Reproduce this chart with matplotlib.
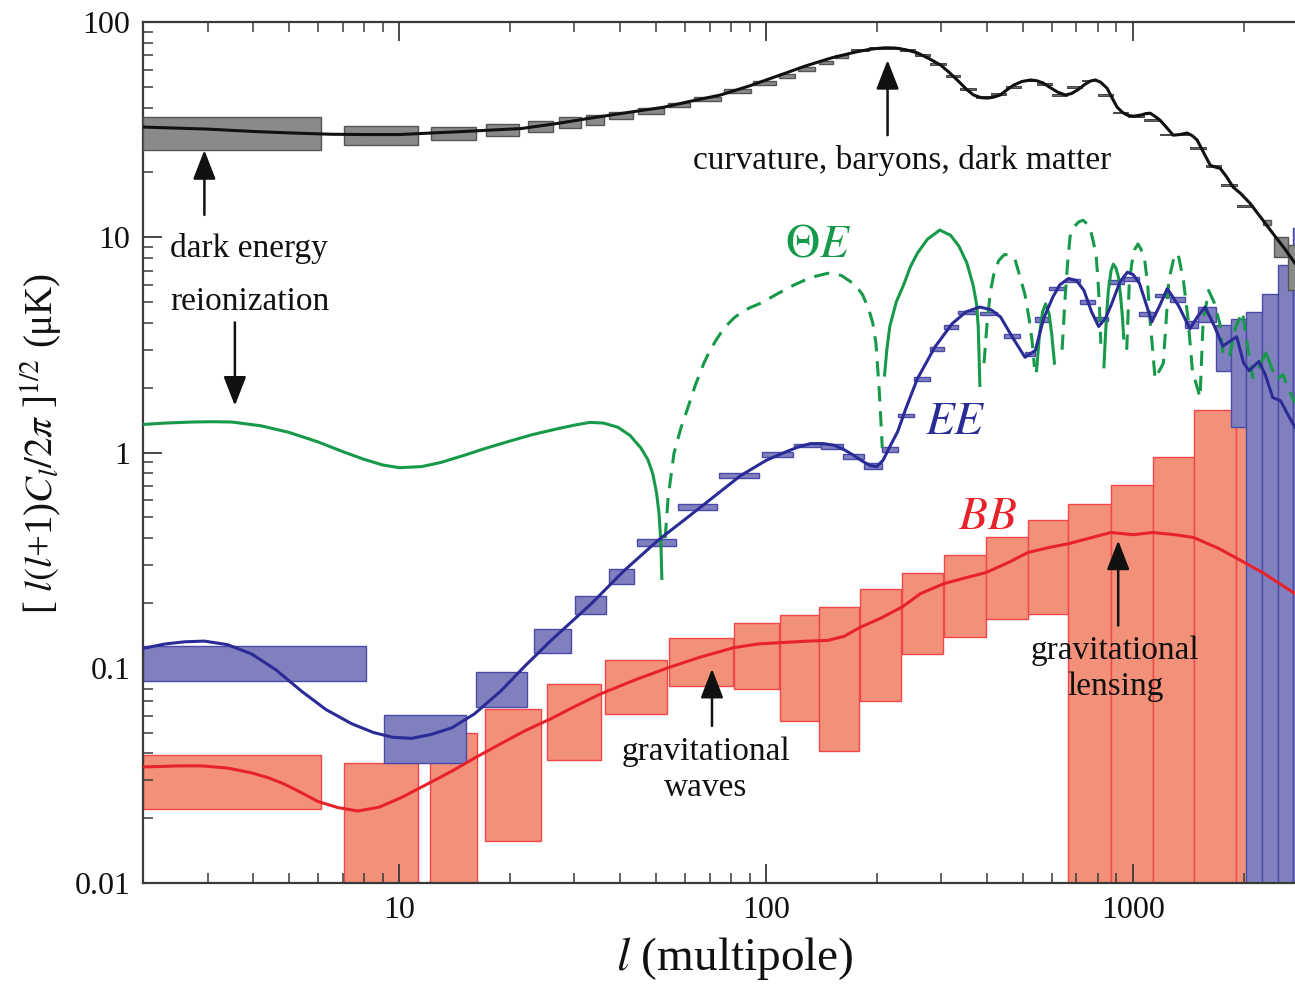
import matplotlib
matplotlib.use("Agg")
import matplotlib.pyplot as plt
from matplotlib.ticker import FuncFormatter, NullFormatter, LogLocator

plt.rcParams["font.family"] = "serif"
plt.rcParams["font.serif"] = ["Liberation Serif", "DejaVu Serif"]
plt.rcParams["mathtext.fontset"] = "stix"

# ---------------- temperature (TT) ----------------
tt_l = [2, 3, 4, 5.1, 6.5, 8, 10, 12.2, 15, 21.5, 27, 33.3, 42, 52.6, 62, 75, 90, 109, 128,
        150, 175, 190, 201, 212, 225, 240, 258, 278, 299, 318, 338, 352, 367, 385, 401, 417,
        434, 452, 472, 497, 525, 547, 569, 595, 621, 653, 678, 705, 740, 765, 788, 815, 849,
        875, 904, 935, 964, 1000, 1045, 1080, 1112, 1145, 1183, 1230, 1285, 1340, 1403, 1450,
        1493, 1560, 1622, 1670, 1726, 1800, 1871, 1960, 2080, 2240, 2404, 2580, 2760]
tt_val = [32.5, 31.8, 31.0, 30.5, 30.1, 30.0, 30.0, 30.5, 31.0, 32.0, 33.8, 35.8, 38.0, 40.2,
          42.8, 45.8, 50.5, 56.7, 62.5, 68.0, 72.5, 74.5, 75.4, 75.9, 75.7, 74.3, 71.9, 67.5,
          63.0, 57.5, 52.0, 48.5, 45.8, 44.5, 44.3, 44.8, 45.8, 48.3, 50.9, 52.9, 53.8, 53.3,
          52.0, 49.5, 47.3, 45.8, 46.5, 48.3, 51.5, 53.2, 53.8, 52.5, 49.2, 44.5, 40.2, 38.0,
          36.9, 36.5, 36.9, 37.5, 37.7, 36.5, 35.0, 32.5, 29.8, 30.0, 30.5, 29.6, 28.3, 24.5,
          21.6, 21.2, 20.9, 19.0, 17.1, 16.0, 14.4, 12.2, 10.4, 8.9, 7.57]

# TT band-power boxes (low l and the wide ones at the damping tail)
tt_box_l0 = [2, 7.08, 12.2, 17.2, 22.4, 27.3, 32.3, 37.3, 44.7, 54, 63.7, 76.7, 92, 108, 122,
             139, 154, 2260, 2420, 2640]
tt_box_l1 = [6.1, 11.2, 16.2, 21.2, 26.2, 31.3, 36.1, 43.4, 52.6, 62, 75.4, 90.7, 106, 120,
             136, 152, 167, 2370, 2640, 3000]
tt_box_v0 = [25.4, 26.8, 28.3, 29.5, 30.7, 32.1, 33.2, 35.4, 37.4, 40.2, 43.1, 46.7, 50.9,
             55.2, 59.4, 63.5, 67.9, 11.4, 8.1, 5.66]
tt_box_v1 = [36.2, 32.8, 32.5, 33.5, 34.6, 36.2, 37.0, 38.1, 39.9, 41.9, 44.9, 48.8, 53.1,
             57.2, 61.8, 65.9, 70.4, 12.0, 10.0, 9.2]

# narrow TT bins along the acoustic peaks (bin edges and central value)
tt_bin_l0 = [170, 190, 210, 232, 255, 280, 308, 338, 372, 410, 450, 495, 545, 600, 660, 725,
             800, 880, 970, 1070, 1180, 1300, 1430, 1580, 1740, 1920]
tt_bin_l1 = [190, 210, 232, 255, 280, 308, 338, 372, 410, 450, 495, 545, 600, 660, 725, 800,
             880, 970, 1070, 1180, 1300, 1430, 1580, 1740, 1920, 2120]
tt_bin_val = [74, 75.5, 76, 74, 70, 64, 56, 49, 45, 46.5, 50, 53.5, 51.5, 46, 50, 53.5, 46, 38,
              36.5, 35, 30, 30, 26, 21.5, 17.5, 14]

# ---------------- temperature-polarization (ThetaE), sign kept ----------------
te_l = [2, 2.3, 2.7, 3.1, 3.5, 4.2, 5, 6, 7, 8, 9, 10, 11.5, 13, 15, 17, 20, 23, 27, 30, 33,
        36, 39.4, 42.5, 45.5, 47.5, 49, 50.2, 51, 51.6, 51.9,
        53, 54, 56, 58.5, 61, 64, 67.5, 70, 72.9, 76, 78.6, 82, 85.2, 90, 96.6, 107, 119, 132,
        147, 160, 175, 183, 190, 195, 199, 203, 205, 207,
        210, 213, 217, 226, 237, 247, 258, 275, 297, 318, 335, 352, 366, 374, 378, 382,
        392, 399, 408, 417, 430, 445, 460, 475, 492, 507, 520, 530, 538,
        545, 555, 566, 577, 590, 600, 610,
        640, 651, 662, 673, 690, 711, 730, 750, 767, 780, 793, 803, 810, 816,
        832, 840, 848, 855, 870, 883, 897, 912, 925, 935, 942,
        960, 975, 990, 1010, 1030, 1050, 1075, 1095, 1110, 1130, 1147,
        1208, 1250, 1290, 1325, 1370, 1410, 1450,
        1521, 1550, 1605, 1660, 1720, 1760,
        1830, 1900, 1985, 2050, 2120,
        2200, 2300, 2400,
        2480, 2560, 2640, 2760]
te_val = [1.35, 1.37, 1.385, 1.39, 1.385, 1.33, 1.24, 1.12, 1.01, 0.93, 0.875, 0.85, 0.86, 0.9,
          0.97, 1.04, 1.13, 1.21, 1.29, 1.34, 1.38, 1.37, 1.31, 1.2, 1.05, 0.93, 0.80, 0.65,
          0.52, 0.38, 0.26,
          -0.4, -0.62, -0.99, -1.3, -1.6, -2.05, -2.59, -2.95, -3.32, -3.7, -3.95, -4.25, -4.45,
          -4.7, -4.94, -5.45, -6.0, -6.5, -6.8, -6.65, -6.0, -5.4, -4.65, -4.0, -3.2, -1.97,
          -1.45, -1.05,
          2.29, 3.0, 3.85, 5.0, 6.04, 7.3, 8.43, 9.8, 10.8, 10.2, 9.08, 7.6, 6.0, 4.9, 3.85, 2.05,
          -2.6, -3.85, -5.6, -6.74, -7.8, -8.3, -8.3, -8.0, -6.5, -5.4, -4.2, -3.3, -2.5,
          2.4, 3.5, 4.5, 4.9, 4.4, 3.5, 2.6,
          -3.0, -5.0, -7.5, -10.1, -11.2, -11.8, -12.0, -11.5, -10.6, -9.4, -8.1, -6.0, -4.5, -3.2,
          2.5, 3.5, 4.6, 5.6, 7.0, 7.5, 7.2, 6.5, 5.2, 4.2, 3.4,
          -3.0, -6.0, -7.5, -8.8, -9.3, -8.8, -7.8, -6.0, -4.2, -3.0, -2.2,
          -2.6, -6.3, -8.0, -8.4, -6.3, -4.2, -2.4,
          -1.8, -4.0, -5.66, -5.0, -4.0, -2.8,
          -2.8, -3.8, -4.5, -3.1, -2.2,
          2.5, 2.9, 2.4,
          -2.2, -2.3, -2.0, -1.7]

# ---------------- E-mode polarization (EE) ----------------
ee_l = [2, 2.3, 2.6, 2.94, 3.4, 3.95, 4.6, 5.4, 6.3, 7.4, 8.5, 9.6, 10.8, 12.2, 13.9, 16, 18.9,
        22, 25.9, 33.3, 41, 50.6, 66, 85, 100, 112, 122, 132, 143, 153, 163, 173, 183, 192,
        200, 208, 218, 228, 240, 258, 288, 321, 350, 382, 410, 435, 470, 507, 541, 570, 604,
        630, 666, 700, 734, 770, 805, 840, 874, 920, 964, 1000, 1040, 1080, 1123, 1180, 1238,
        1330, 1427, 1500, 1570, 1660, 1755, 1840, 1914, 2000, 2070, 2200, 2290, 2400, 2520,
        2640, 2760]
ee_val = [0.123, 0.129, 0.132, 0.133, 0.128, 0.116, 0.098, 0.078, 0.064, 0.055, 0.050, 0.0475,
          0.047, 0.049, 0.0526, 0.061, 0.078, 0.102, 0.134, 0.198, 0.283, 0.39, 0.555, 0.78,
          0.92, 1.0, 1.06, 1.1, 1.1, 1.08, 1.03, 0.97, 0.91, 0.87, 0.86, 0.92, 1.08, 1.25, 1.6,
          2.2, 3.09, 3.97, 4.5, 4.74, 4.6, 4.26, 3.4, 2.77, 2.98, 4.2, 5.28, 6.0, 6.43, 6.3,
          5.66, 4.5, 3.85, 4.2, 4.92, 6.2, 6.88, 6.7, 6.1, 5.0, 4.04, 4.8, 5.77, 4.8, 3.76,
          4.3, 4.74, 3.9, 3.12, 3.3, 3.45, 2.6, 2.4, 2.65, 2.3, 1.8, 1.74, 1.5, 1.31]

ee_box_l0 = [2, 9.1, 16.2, 23.2, 30.1, 37.3, 44.4, 57.3, 74.5, 97.2, 119, 141, 162, 184, 207,
             229, 253, 279, 305, 334, 382, 445, 507, 541, 590, 651, 717, 785, 855, 942, 1040,
             1147, 1260, 1384, 1500, 1680, 1850, 2030, 2240, 2480, 2720]
ee_box_l1 = [8.1, 15.2, 22.3, 29.4, 36.6, 43.6, 56.8, 73.6, 95.6, 118, 141, 162, 184, 207, 229,
             253, 279, 305, 334, 372, 424, 490, 541, 590, 651, 717, 785, 855, 942, 1040, 1147,
             1253, 1384, 1500, 1680, 1850, 2030, 2240, 2480, 2720, 3000]
ee_box_v0 = [0.087, 0.0362, 0.066, 0.117, 0.178, 0.246, 0.366, 0.543, 0.765, 0.958, 1.06, 1.04,
             0.93, 0.84, 1.01, 1.46, 2.16, 2.96, 3.76, 4.38, 4.34, 3.42, 2.80, 4.04, 5.66, 6.2,
             4.92, 4.07, 6.05, 6.26, 4.3, 5.25, 5.0, 3.8, 4.04, 2.4, 1.31, 1e-3, 1e-3, 1e-3, 1e-3]
ee_box_v1 = [0.1265, 0.0605, 0.0957, 0.152, 0.216, 0.289, 0.398, 0.579, 0.807, 1.01, 1.10, 1.09,
             0.98, 0.89, 1.066, 1.51, 2.24, 3.09, 3.9, 4.54, 4.49, 3.54, 2.93, 4.26, 5.9, 6.43,
             5.1, 4.26, 6.3, 6.53, 4.49, 5.46, 5.28, 4.1, 4.74, 3.9, 4.18, 4.49, 5.43, 7.4, 11.0]

# ---------------- B-mode polarization (BB) ----------------
bb_l = [2, 2.5, 2.9, 3.4, 3.95, 4.4, 4.86, 5.4, 6.0, 6.8, 7.7, 8.8, 10.1, 12, 13.9, 16, 18.9,
        22, 25.9, 30, 35.4, 44, 54, 66, 81.6, 95, 111, 130, 147, 163, 180, 205, 235, 263, 305,
        350, 397, 460, 516, 590, 666, 760, 870, 1000, 1130, 1300, 1460, 1700, 1900, 2250, 2760]
bb_val = [0.0346, 0.035, 0.035, 0.0342, 0.0325, 0.0308, 0.0288, 0.0263, 0.0239, 0.0224, 0.0216,
          0.0225, 0.0249, 0.029, 0.0331, 0.038, 0.0444, 0.051, 0.058, 0.066, 0.0757, 0.088, 0.1,
          0.112, 0.124, 0.129, 0.131, 0.133, 0.134, 0.14, 0.154, 0.17, 0.192, 0.221, 0.246,
          0.262, 0.277, 0.31, 0.343, 0.362, 0.377, 0.40, 0.425, 0.415, 0.425, 0.415, 0.403,
          0.36, 0.325, 0.277, 0.221]

bb_box_l0 = [2, 7.05, 12.1, 17.1, 25.3, 36.4, 54.3, 81.6, 109, 139, 180, 234, 305, 397, 516,
             666, 870, 1130, 1460, 1905]
bb_box_l1 = [6.1, 11.2, 16.3, 24.3, 35.4, 53.5, 80.9, 108, 139, 179, 233, 303, 397, 516, 666,
             870, 1130, 1460, 1905, 2040]
bb_box_v0 = [0.0221, 1e-3, 1e-3, 0.0157, 0.0371, 0.0612, 0.0826, 0.080, 0.0568, 0.0410, 0.0703,
             0.116, 0.139, 0.169, 0.178, 1e-3, 1e-3, 1e-3, 1e-3, 1e-3]
bb_box_v1 = [0.0393, 0.0360, 0.0497, 0.0645, 0.0843, 0.109, 0.137, 0.162, 0.176, 0.192, 0.231,
             0.277, 0.335, 0.403, 0.488, 0.579, 0.71, 0.958, 1.58, 2.5]

C_TT = "#111111"
C_TT_BOX = "#8a8a8a"
C_TE = "#17994a"
C_EE = "#2b2b97"
C_EE_BOX = "#8080bf"
C_BB = "#e8222b"
C_BB_BOX = "#f39079"
C_AXIS = "#3a3a3a"


def draw_boxes(ax, l0, l1, v0, v1, face, edge, z, lw=1.0):
    widths = [b - a for a, b in zip(l0, l1)]
    heights = [b - a for a, b in zip(v0, v1)]
    ax.bar(l0, heights, width=widths, bottom=v0, align="edge",
           color=face, edgecolor=edge, linewidth=lw, zorder=z)


def split_by_sign(l, v):
    # positive stretches are drawn solid, negative ones dashed
    runs = []
    cur_l, cur_v, cur_s = [], [], None
    for li, vi in zip(l, v):
        s = vi > 0
        if cur_s is not None and s != cur_s:
            runs.append((cur_s, cur_l, cur_v))
            cur_l, cur_v = [], []
        cur_l.append(li)
        cur_v.append(abs(vi))
        cur_s = s
    runs.append((cur_s, cur_l, cur_v))
    return runs


fig = plt.figure(figsize=(12.95, 9.84), dpi=100)
ax = fig.add_axes([143 / 1295, 1 - 883 / 984, 1 - 143 / 1295, (883 - 22) / 984])
ax.set_xscale("log")
ax.set_yscale("log")
ax.set_xlim(2, 2760)
ax.set_ylim(0.01, 100)

# boxes: BB under EE under TT
draw_boxes(ax, bb_box_l0, bb_box_l1, bb_box_v0, bb_box_v1, C_BB_BOX, "#f0474a", 1, lw=1.0)
draw_boxes(ax, ee_box_l0, ee_box_l1, ee_box_v0, ee_box_v1, C_EE_BOX, "#4a4aa8", 2, lw=1.0)
draw_boxes(ax, tt_box_l0, tt_box_l1, tt_box_v0, tt_box_v1, C_TT_BOX, "#555555", 3, lw=1.0)
draw_boxes(ax, tt_bin_l0, tt_bin_l1,
           [v * 0.99 for v in tt_bin_val], [v * 1.01 for v in tt_bin_val],
           "#666666", "#444444", 3, lw=0.7)

# theory curves
ax.plot(bb_l, bb_val, color=C_BB, lw=2.2, zorder=4)
for positive, ls, vs in split_by_sign(te_l, te_val):
    ax.plot(ls, vs, color=C_TE, lw=2.2, zorder=5,
            linestyle="-" if positive else (0, (5.0, 3.2)))
ax.plot(ee_l, ee_val, color=C_EE, lw=2.2, zorder=6)
ax.plot(tt_l, tt_val, color=C_TT, lw=2.2, zorder=7)

# axes styling
for side in ["left", "bottom", "top"]:
    ax.spines[side].set_color(C_AXIS)
    ax.spines[side].set_linewidth(1.6)
ax.spines["right"].set_visible(False)
ax.tick_params(which="both", direction="in", top=True, right=False, colors=C_AXIS,
               labelcolor="#111111", labelsize=23)
ax.tick_params(which="major", length=14, width=1.3, pad=9)
ax.tick_params(which="minor", length=7, width=1.1)
ax.xaxis.set_major_locator(LogLocator(base=10))
ax.yaxis.set_major_locator(LogLocator(base=10))
fmt = FuncFormatter(lambda v, _: f"{v:g}")
ax.xaxis.set_major_formatter(fmt)
ax.yaxis.set_major_formatter(fmt)
ax.xaxis.set_minor_formatter(NullFormatter())
ax.yaxis.set_minor_formatter(NullFormatter())

ax.set_xlabel(r"$l$ (multipole)", fontsize=34, color="#111111")
ax.xaxis.set_label_coords(0.514, -0.06)
ax.set_ylabel(r"[ $l(l$+1)$C_l/2\pi$ ]$^{1/2}$ (μK)", fontsize=28, color="#111111")
ax.yaxis.set_label_coords(-0.068, 0.51)

# labels and arrows
arrow = dict(arrowstyle="-|>,head_length=0.9,head_width=0.35", lw=1.8, color="#111111",
             shrinkA=0, shrinkB=0, mutation_scale=20)
txt = dict(fontsize=24, color="#111111", zorder=10)

ax.text(234, 22.8, "curvature, baryons, dark matter", ha="center", va="center", **txt)
ax.annotate("", xy=(214, 66.6), xytext=(214, 29.8), arrowprops=arrow, zorder=10)

ax.text(2.37, 8.9, "dark energy", ha="left", va="center", **txt)
ax.annotate("", xy=(2.94, 25.4), xytext=(2.94, 12.7), arrowprops=arrow, zorder=10)

ax.text(2.37, 5.0, "reionization", ha="left", va="center", **txt)
ax.annotate("", xy=(3.56, 1.65), xytext=(3.56, 4.02), arrowprops=arrow, zorder=10)

ax.text(68.4, 0.0336, "gravitational\nwaves", ha="center", va="center", linespacing=1.2, **txt)
ax.annotate("", xy=(71.1, 0.0989), xytext=(71.1, 0.0537), arrowprops=arrow, zorder=10)

ax.text(893, 0.099, "gravitational\nlensing", ha="center", va="center", linespacing=1.2, **txt)
ax.annotate("", xy=(910, 0.39), xytext=(910, 0.157), arrowprops=arrow, zorder=10)

ax.text(138, 9.18, r"$\Theta E$", fontsize=34, color=C_TE, ha="center", va="center", zorder=10)
ax.text(328, 1.38, r"$EE$", fontsize=34, color=C_EE, ha="center", va="center", zorder=10)
ax.text(401, 0.499, r"$BB$", fontsize=34, color=C_BB, ha="center", va="center", zorder=10)

fig.savefig("out.png", dpi=100)
